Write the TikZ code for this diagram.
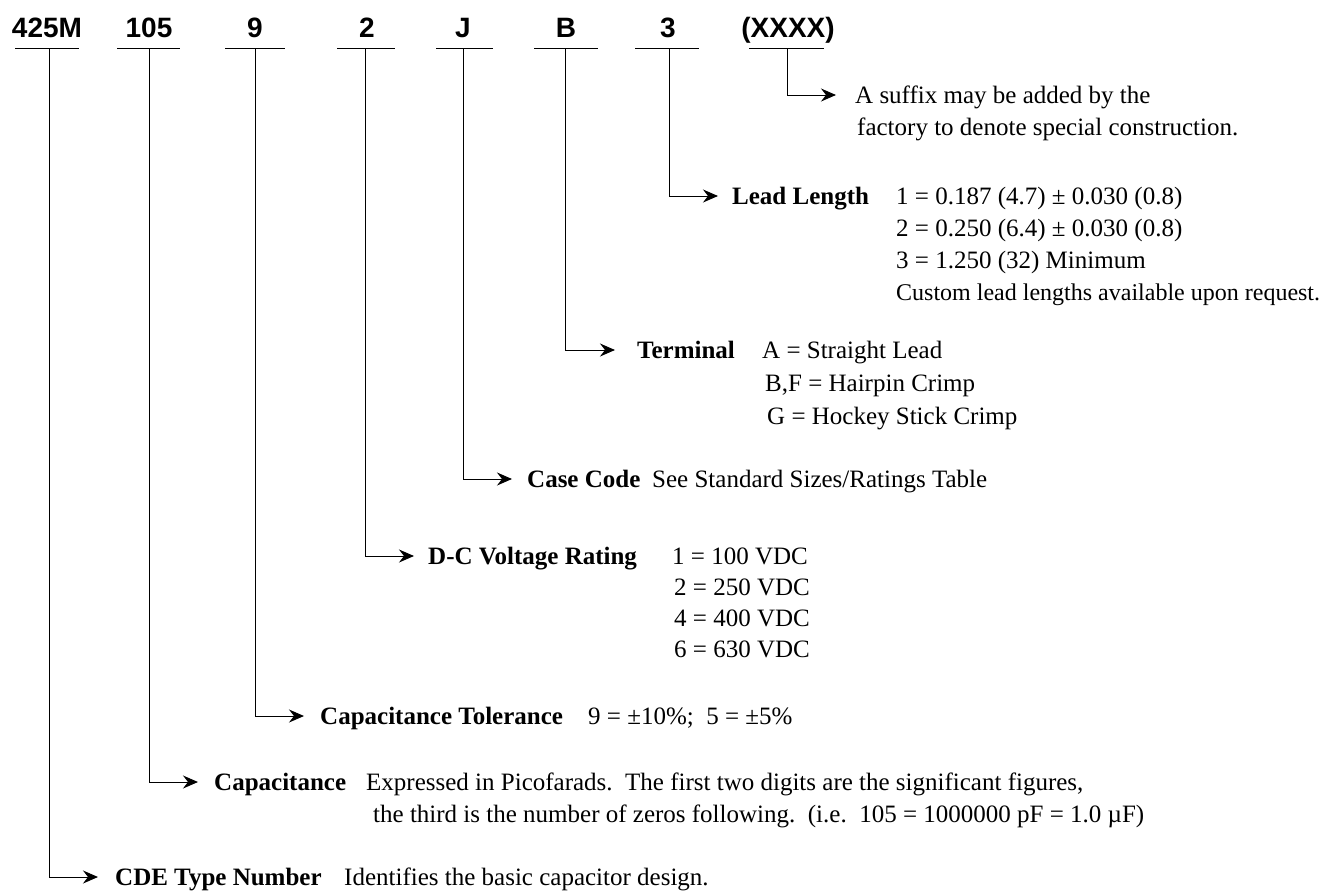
\documentclass[tikz,border=0pt]{standalone}
\usepackage{fontspec}
\setmainfont{Liberation Serif}
\newfontfamily\hdrfont{Liberation Sans}
\usetikzlibrary{arrows.meta}
\begin{document}
\begin{tikzpicture}[x=1pt,y=-1pt,
  code/.style={font=\hdrfont\bfseries\fontsize{28}{30}\selectfont, anchor=base, inner sep=0pt},
  lbl/.style={font=\bfseries\fontsize{25}{32}\selectfont, anchor=base west, inner sep=0pt},
  val/.style={font=\fontsize{25}{32}\selectfont, anchor=base west, inner sep=0pt},
  small/.style={font=\fontsize{24}{30}\selectfont, anchor=base west, inner sep=0pt},
  ln/.style={line width=1pt},
  arr/.style={line width=1pt, -{Stealth[length=15pt,width=13pt,inset=5pt]}}]
\useasboundingbox (0,0) rectangle (1333,892);
% header codes
\node[code] (cA) at (47,37) {425M};
\node[code] (cB) at (149,37) {105};
\node[code] (cC) at (255,37) {9};
\node[code] (cD) at (367,37) {2};
\node[code] (cE) at (463,37) {J};
\node[code] (cF) at (566,37) {B};
\node[code] (cG) at (668,37) {3};
\node[code] (cH) at (788,37) {(XXXX)};
% underline anchors
\coordinate (uA) at (49,48);
\coordinate (uB) at (149,48);
\coordinate (uC) at (255,48);
\coordinate (uD) at (365,48);
\coordinate (uE) at (463,48);
\coordinate (uF) at (565,48);
\coordinate (uG) at (669,48);
\coordinate (uH) at (787,48);
\draw[ln] (15,48) -- (79,48);
\draw[ln] (117,48) -- (180,48);
\draw[ln] (225,48) -- (285,48);
\draw[ln] (337,48) -- (395,48);
\draw[ln] (436,48) -- (493,48);
\draw[ln] (534,48) -- (598,48);
\draw[ln] (635,48) -- (699,48);
\draw[ln] (749,48) -- (824,48);
% arrow tips
\coordinate (tH) at (836,95);
\coordinate (tG) at (718,196);
\coordinate (tF) at (615,350);
\coordinate (tE) at (512,479);
\coordinate (tD) at (414,556);
\coordinate (tC) at (304,716);
\coordinate (tB) at (198,782);
\coordinate (tA) at (98,877);
\draw[arr] (uH) |- (tH);
\draw[arr] (uG) |- (tG);
\draw[arr] (uF) |- (tF);
\draw[arr] (uE) |- (tE);
\draw[arr] (uD) |- (tD);
\draw[arr] (uC) |- (tC);
\draw[arr] (uB) |- (tB);
\draw[arr] (uA) |- (tA);
% suffix
\node[val] (h1) at (855,103) {A suffix may be added by the};
\node[val] (h2) at (857,135) {factory to denote special construction.};
% lead length
\node[lbl] (gL) at (732,204) {Lead Length};
\node[val] (g1) at (896,204) {1 = 0.187 (4.7) ± 0.030 (0.8)};
\node[val] (g2) at (896,236) {2 = 0.250 (6.4) ± 0.030 (0.8)};
\node[val] (g3) at (896,268) {3 = 1.250 (32) Minimum};
\node[small] (g4) at (896,300) {Custom lead lengths available upon request.};
% terminal
\node[lbl] (fL) at (637,358) {Terminal};
\node[val] (f1) at (762,358) {A = Straight Lead};
\node[val] (f2) at (765,391) {B,F = Hairpin Crimp};
\node[val] (f3) at (767,424) {G = Hockey Stick Crimp};
% case code
\node[lbl] (eL) at (527,487) {Case Code};
\node[val] (e1) at (652,487) {See Standard Sizes/Ratings Table};
% voltage
\node[lbl] (dL) at (428,564) {D-C Voltage Rating};
\node[val] (d1) at (672,564) {1 = 100 VDC};
\node[val] (d2) at (674,595) {2 = 250 VDC};
\node[val] (d3) at (674,626) {4 = 400 VDC};
\node[val] (d4) at (674,657) {6 = 630 VDC};
% tolerance
\node[lbl] (cL) at (320,724) {Capacitance Tolerance};
\node[val] (c1) at (588,724) {9 = ±10\%;\ \ 5 = ±5\%};
% capacitance
\node[lbl] (bL) at (214,790) {Capacitance};
\node[val] (b1) at (366,790) {Expressed in Picofarads.\ \ The first two digits are the significant figures,};
\node[val] (b2) at (373,822) {the third is the number of zeros following.\ \ (i.e.\ \ 105 = 1000000 pF = 1.0 µF)};
% type number
\node[lbl] (aL) at (115,885) {CDE Type Number};
\node[val] (a1) at (344,885) {Identifies the basic capacitor design.};
\end{tikzpicture}
\end{document}
